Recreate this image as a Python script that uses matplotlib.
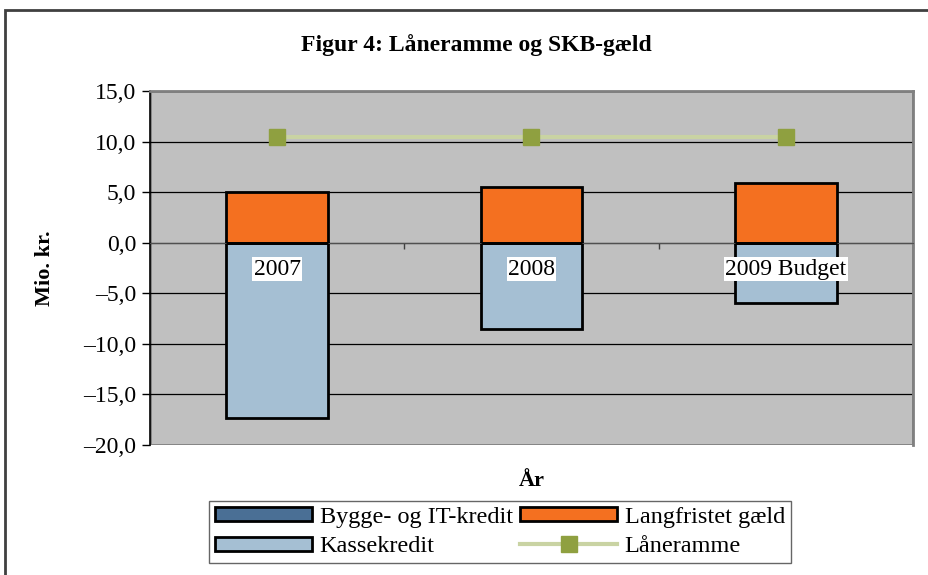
import matplotlib.pyplot as plt
from matplotlib.patches import Rectangle

# data
years = ["2007", "2008", "2009 Budget"]
bygge = [0.0, 0.0, 0.0]
langfristet = [5.0, 5.5, 5.9]
kassekredit = [-17.3, -8.5, -6.0]
laaneramme = [10.5, 10.5, 10.5]
yticks = [15, 10, 5, 0, -5, -10, -15, -20]

plt.rcParams['font.family'] = ['Liberation Serif', 'DejaVu Serif']

fig = plt.figure(figsize=(9.29, 5.75), dpi=100)
W, H = 929, 575

# ydre ramme
fig.patches.append(Rectangle((5 / W, -0.05), 1.0, 1 - 10 / H + 0.05,
                             transform=fig.transFigure, fill=False,
                             edgecolor='#404040', linewidth=2))

ax = fig.add_axes([150 / W, 1 - 445 / H, (913 - 150) / W, (445 - 91) / H])
ax.set_facecolor('#C0C0C0')

x = list(range(len(years)))
ax.set_xlim(-0.5, 2.5)
ax.set_ylim(-20, 15)

for y in yticks[1:-1]:
    ax.axhline(y, color='black', linewidth=0.9, zorder=1)

bw = 0.4
b1 = ax.bar(x, bygge, bw, color='#4A6F95', edgecolor='black', linewidth=2,
            label='Bygge- og IT-kredit', zorder=3)
b2 = ax.bar(x, kassekredit, bw, color='#A5BFD3', edgecolor='black', linewidth=2,
            label='Kassekredit', zorder=2)
b3 = ax.bar(x, langfristet, bw, color='#F47020', edgecolor='black', linewidth=2,
            label='Langfristet gæld', zorder=2)
l1, = ax.plot(x, laaneramme, color='#C9D3A3', linewidth=3, marker='s',
              markersize=11, markerfacecolor='#8FA040', markeredgecolor='#8FA040',
              label='Låneramme', zorder=4)

for i, yr in enumerate(years):
    ax.text(i, -2.6, yr, ha='center', va='center', fontsize=17, zorder=5,
            bbox=dict(boxstyle='square,pad=0.05', facecolor='white',
                      edgecolor='none'))

ax.set_yticks(yticks)
ax.set_yticklabels([f"{v:.1f}".replace('.', ',').replace('-', '–') for v in yticks])
ax.tick_params(axis='y', labelsize=17, length=6, width=1, color='black', pad=4)

ax.spines['bottom'].set_position(('data', 0))
ax.spines['bottom'].set_color('#505050')
ax.set_xticks([0.5, 1.5, 2.5])
ax.set_xticklabels([])
ax.tick_params(axis='x', length=4, width=1, color='#404040', direction='out')

for s in ['top', 'right']:
    ax.spines[s].set_color('#808080')
    ax.spines[s].set_linewidth(2)
ax.spines['left'].set_color('black')
ax.spines['left'].set_linewidth(1.2)
ax.add_patch(Rectangle((0, 0), 1, 1, transform=ax.transAxes, fill=False,
                       edgecolor='#808080', linewidth=2, zorder=0.5))

fig.text(476 / W, 1 - 45 / H, "Figur 4: Låneramme og SKB-gæld",
         ha='center', va='center', fontsize=17, fontweight='bold')
fig.text(45 / W, 1 - 268 / H, "Mio. kr.", ha='center', va='center',
         rotation=90, fontsize=16, fontweight='bold')
fig.text(532 / W, 1 - 481 / H, "År", ha='center', va='center',
         fontsize=16, fontweight='bold')

handles = [b1, b2, b3, l1]
labels = [h.get_label() for h in handles]
leg = fig.legend(handles, labels, ncol=2, loc='center left',
                 bbox_to_anchor=(197 / W, 1 - 532 / H), fontsize=17.5,
                 frameon=True, fancybox=False, edgecolor='#404040',
                 handlelength=4.0, handleheight=0.5, handletextpad=0.3,
                 columnspacing=0.3, labelspacing=0.35, borderpad=0.25)
leg.get_frame().set_linewidth(1)

fig.savefig('out.png', dpi=100)
